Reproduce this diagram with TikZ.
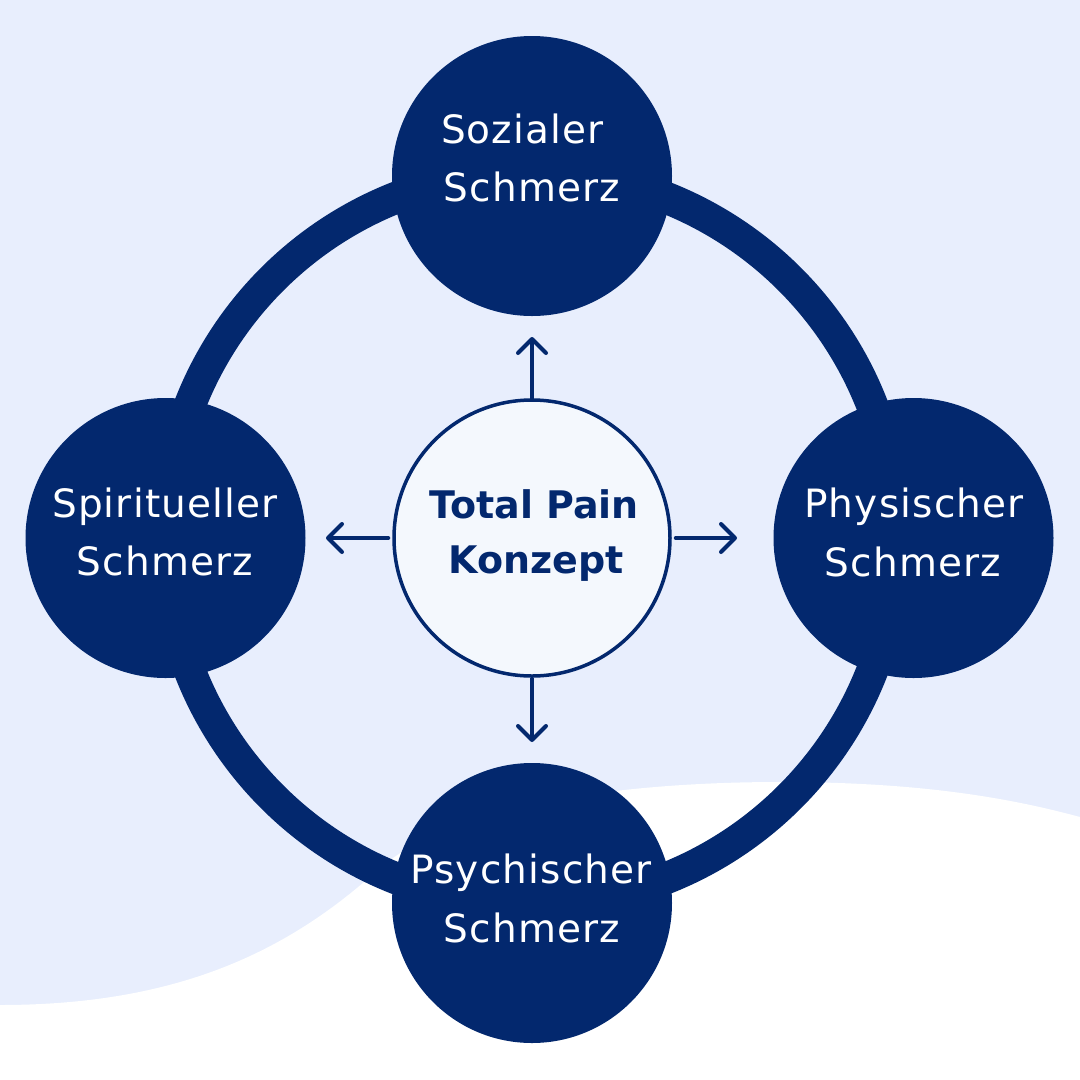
\documentclass[tikz,border=0pt]{standalone}
\usepackage{fontspec}
\setmainfont{DejaVu Sans}
\newfontfamily\satfont[LetterSpace=3]{DejaVu Sans}
\usetikzlibrary{arrows.meta}
\definecolor{navy}{HTML}{03286E}
\definecolor{bglight}{HTML}{E8EEFD}
\definecolor{ctrfill}{HTML}{F4F8FD}
\begin{document}
\begin{tikzpicture}[x=1pt,y=-1pt,
  sat/.style={circle,fill=navy,minimum size=280pt,inner sep=0pt,outer sep=0pt},
  ctrc/.style={circle,draw=navy,line width=3.5pt,fill=ctrfill,minimum size=276pt,inner sep=0pt},
  satlbl/.style={anchor=base,text=white,inner sep=0pt,font=\satfont\fontsize{39}{47}\selectfont},
  ctrlbl/.style={anchor=base,text=navy,inner sep=0pt,font=\bfseries\fontsize{38}{46}\selectfont},
  arr/.style={draw=navy,line width=4pt,line cap=round,line join=round,-{Straight Barb[length=14pt,width=28pt,round]}},
  ringline/.style={draw=navy,line width=32pt}]
\fill[bglight] (0,0) rectangle (1080,1080);
\useasboundingbox (0,0) rectangle (1080,1080);
% white wave
\fill[white] (0,1005) .. controls (180,1005) and (290,950) .. (380,868)
  .. controls (460,800) and (640,782) .. (780,782)
  .. controls (920,782) and (1010,798) .. (1080,817)
  -- (1080,1080) -- (0,1080) -- cycle;
% ring
\coordinate (ringc) at (531,538);
\draw[ringline] (ringc) circle[radius=366pt];
% satellites
\node[sat] (soz) at (532,176) {};
\node[sat] (spi) at (165.5,538) {};
\node[sat] (phy) at (913.5,538) {};
\node[sat] (psy) at (532,903) {};
% centre
\node[ctrc] (ctr) at (532,538) {};
% arrows
\coordinate (upTip) at (532,337);
\coordinate (downTip) at (532,742);
\coordinate (leftTip) at (326,538);
\coordinate (rightTip) at (737,538);
\draw[arr] (ctr.north) -- (upTip);
\draw[arr,shorten <=1pt] (ctr.south) -- (downTip);
\draw[arr,shorten <=4pt] (ctr.west) -- (leftTip);
\draw[arr,shorten <=4pt] (ctr.east) -- (rightTip);
% labels
\node[satlbl] (sozA) at (522.5,143) {Sozialer};
\node[satlbl] (sozB) at (532,201) {Schmerz};
\node[satlbl] (spiA) at (165,517) {Spiritueller};
\node[satlbl] (spiB) at (165,575) {Schmerz};
\node[satlbl] (phyA) at (914,517) {Physischer};
\node[satlbl] (phyB) at (913,576) {Schmerz};
\node[satlbl] (psyA) at (531,883) {Psychischer};
\node[satlbl] (psyB) at (532,942) {Schmerz};
\node[ctrlbl] (ctrA) at (534,518) {Total Pain};
\node[ctrlbl] (ctrB) at (536,573) {Konzept};
\end{tikzpicture}
\end{document}
